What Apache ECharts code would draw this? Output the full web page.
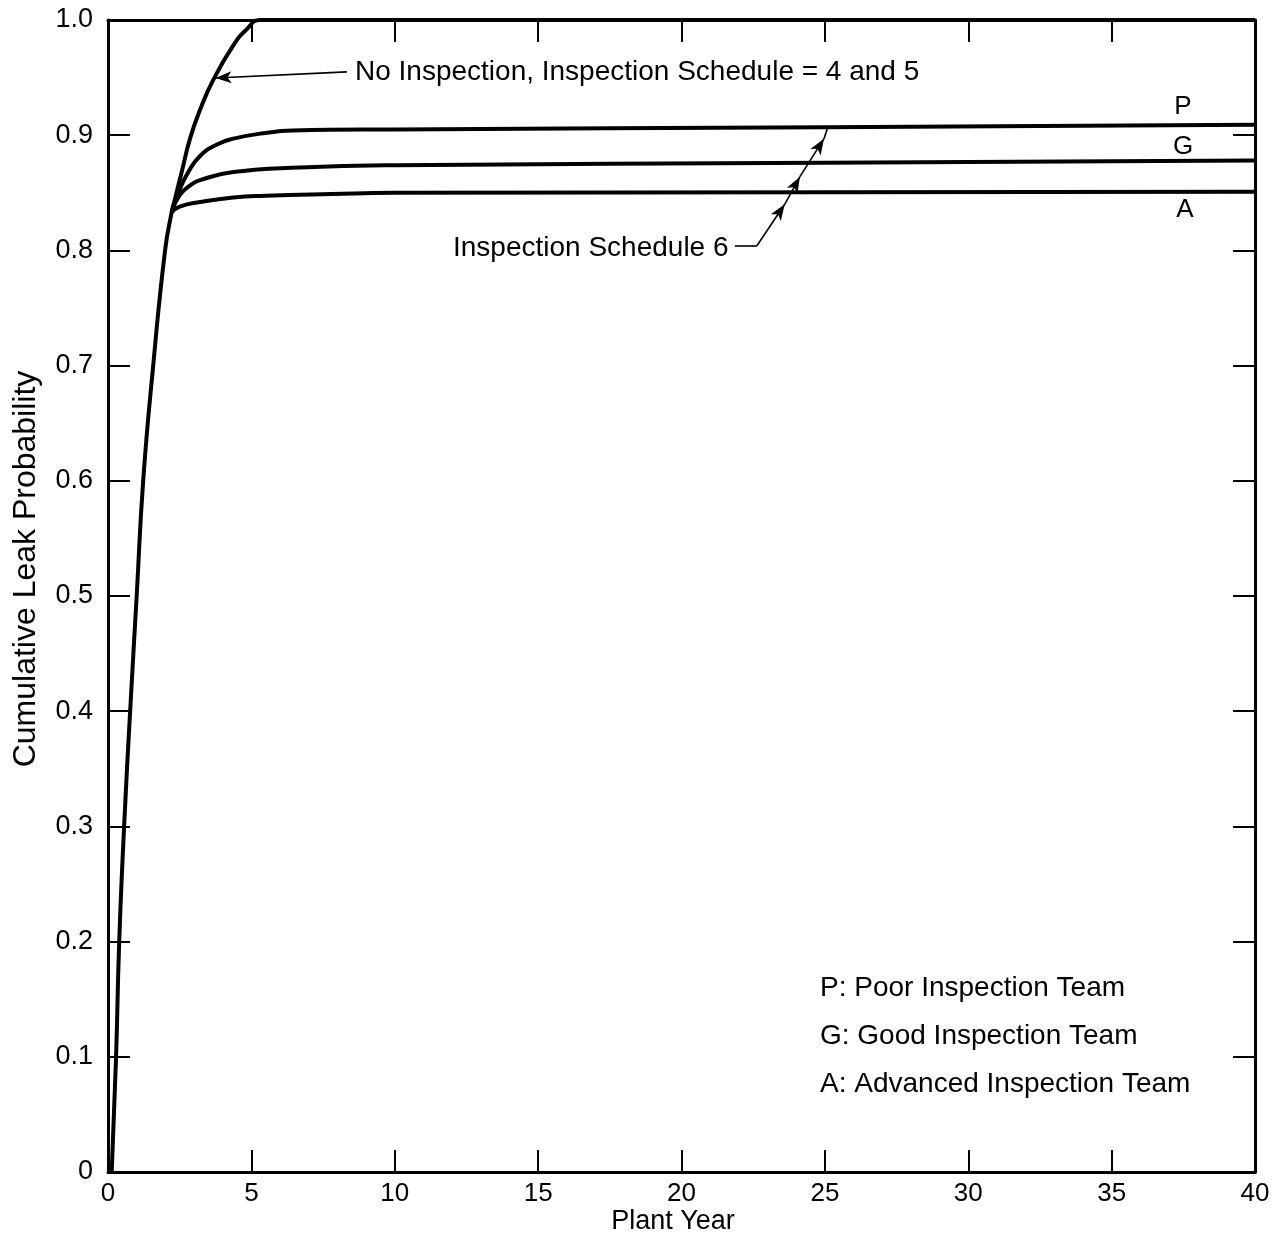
<!DOCTYPE html>
<html>
<head>
<meta charset="utf-8">
<script src="https://cdn.jsdelivr.net/npm/echarts@6/dist/echarts.min.js"></script>
<style>
html,body{margin:0;padding:0;background:#fff;}
#chart{width:1285px;height:1238px;}
</style>
</head>
<body>
<div id="chart"></div>
<script>
// ---- data ----
const xTickLabels = ['0','5','10','15','20','25','30','35','40'];
const yTickLabels = ['0','0.1','0.2','0.3','0.4','0.5','0.6','0.7','0.8','0.9','1.0'];

// No Inspection, Inspection Schedule = 4 and 5
const noInspX = [0.13, 0.28, 0.39, 0.56, 0.77, 1.00, 1.23, 1.58, 1.99, 2.22, 2.34, 2.57, 2.86, 3.21, 3.67, 4.37, 4.84, 5.30, 40];
const noInspY = [0.0, 0.099, 0.199, 0.299, 0.399, 0.500, 0.601, 0.701, 0.800, 0.833, 0.845, 0.868, 0.897, 0.922, 0.948, 0.978, 0.992, 1.0, 1.0];

// Inspection Schedule 6, Poor / Good / Advanced teams
const poorX = [2.22, 2.45, 2.80, 3.21, 3.80, 4.37, 5.50, 6.45, 10, 25, 40];
const poorY = [0.833, 0.850, 0.868, 0.882, 0.892, 0.897, 0.902, 0.904, 0.905, 0.907, 0.909];
const goodX = [2.22, 2.50, 2.90, 3.21, 4.37, 6.70, 10, 25, 40];
const goodY = [0.833, 0.848, 0.857, 0.861, 0.868, 0.872, 0.874, 0.876, 0.878];
const advX = [2.22, 2.50, 3.21, 4.37, 5.50, 7.80, 10, 40];
const advY = [0.833, 0.838, 0.842, 0.846, 0.8475, 0.849, 0.850, 0.851];

// annotation leader lines (data coordinates)
const noInspLeader = [[8.33, 0.955], [3.75, 0.9496]];
const sched6Leader = [[21.86, 0.804], [22.63, 0.804], [23.6, 0.840], [24.13, 0.864], [24.97, 0.897], [25.1, 0.907]];

const zip = (xs, ys) => xs.map((x, i) => [x, ys[i]]);

const FONT = '"Liberation Sans", Arial, Helvetica, sans-serif';
const chart = echarts.init(document.getElementById('chart'), null, {renderer: 'canvas'});

const curveStyle = {color: '#000', width: 4};
function curve(name, data) {
  return {
    name, type: 'line', data, xAxisIndex: 0, yAxisIndex: 0,
    showSymbol: false, symbol: 'none', smooth: 0.5,
    lineStyle: curveStyle, silent: true, animation: false, z: 3
  };
}

// leader line segments
const leaderSegs = [];
leaderSegs.push([{coord: noInspLeader[0], symbol: 'none'}, {coord: noInspLeader[1], symbol: 'arrow'}]);
for (let i = 0; i < sched6Leader.length - 1; i++) {
  const arrow = (i >= 1 && i <= 3) ? 'arrow' : 'none';
  leaderSegs.push([{coord: sched6Leader[i], symbol: 'none'}, {coord: sched6Leader[i + 1], symbol: arrow}]);
}

function axisBase() {
  return {
    type: 'value',
    axisLine: {show: true, onZero: false, lineStyle: {color: '#000', width: 3}},
    axisTick: {show: true, inside: true, length: 22, lineStyle: {color: '#000', width: 2}},
    splitLine: {show: false},
  };
}

const option = {
  backgroundColor: '#fff',
  animation: false,
  grid: {left: 108, right: 30, top: 20, bottom: 66, containLabel: false},
  xAxis: [
    Object.assign(axisBase(), {
      position: 'bottom', min: 0, max: 40, interval: 5,
      axisLabel: {show: true, margin: 9, color: '#000', fontSize: 26, fontFamily: FONT,
        formatter: v => xTickLabels[Math.round(v / 5)]}
    }),
    Object.assign(axisBase(), {
      position: 'top', min: 0, max: 40, interval: 5,
      axisLabel: {show: false}
    })
  ],
  yAxis: [
    Object.assign(axisBase(), {
      position: 'left', min: 0, max: 1, interval: 0.1,
      axisLabel: {show: true, margin: 15, color: '#000', fontSize: 27, fontFamily: FONT,
        formatter: v => yTickLabels[Math.round(v * 10)]}
    }),
    Object.assign(axisBase(), {
      position: 'right', min: 0, max: 1, interval: 0.1,
      axisLabel: {show: false}
    })
  ],
  series: [
    curve('No Inspection', zip(noInspX, noInspY)),
    curve('P', zip(poorX, poorY)),
    curve('G', zip(goodX, goodY)),
    curve('A', zip(advX, advY)),
    {
      name: 'leaders', type: 'line', data: [], xAxisIndex: 0, yAxisIndex: 0, silent: true,
      markLine: {
        silent: true, animation: false,
        symbolSize: [9, 16],
        lineStyle: {color: '#000', width: 1.6, type: 'solid'},
        label: {show: false},
        data: leaderSegs
      }
    }
  ],
  graphic: [
    {type: 'text', x: 355, y: 72, silent: true,
      style: {text: 'No Inspection, Inspection Schedule = 4 and 5', font: '28px ' + FONT, fill: '#000', align: 'left', verticalAlign: 'middle'}},
    {type: 'text', x: 453, y: 248, silent: true,
      style: {text: 'Inspection Schedule 6', font: '28px ' + FONT, fill: '#000', align: 'left', verticalAlign: 'middle'}},
    {type: 'text', x: 1183, y: 107, silent: true,
      style: {text: 'P', font: '26px ' + FONT, fill: '#000', align: 'center', verticalAlign: 'middle'}},
    {type: 'text', x: 1183, y: 147, silent: true,
      style: {text: 'G', font: '26px ' + FONT, fill: '#000', align: 'center', verticalAlign: 'middle'}},
    {type: 'text', x: 1185, y: 210, silent: true,
      style: {text: 'A', font: '26px ' + FONT, fill: '#000', align: 'center', verticalAlign: 'middle'}},
    {type: 'text', x: 820, y: 988, silent: true,
      style: {text: 'P: Poor Inspection Team', font: '28px ' + FONT, fill: '#000', align: 'left', verticalAlign: 'middle'}},
    {type: 'text', x: 820, y: 1036, silent: true,
      style: {text: 'G: Good Inspection Team', font: '28px ' + FONT, fill: '#000', align: 'left', verticalAlign: 'middle'}},
    {type: 'text', x: 820, y: 1084, silent: true,
      style: {text: 'A: Advanced Inspection Team', font: '28px ' + FONT, fill: '#000', align: 'left', verticalAlign: 'middle'}},
    {type: 'text', x: 673, y: 1222, silent: true,
      style: {text: 'Plant Year', font: '27px ' + FONT, fill: '#000', align: 'center', verticalAlign: 'middle'}},
    {type: 'text', x: 26, y: 569, rotation: Math.PI / 2, silent: true,
      style: {text: 'Cumulative Leak Probability', font: '32px ' + FONT, fill: '#000', align: 'center', verticalAlign: 'middle'}}
  ]
};
chart.setOption(option);
</script>
</body>
</html>
